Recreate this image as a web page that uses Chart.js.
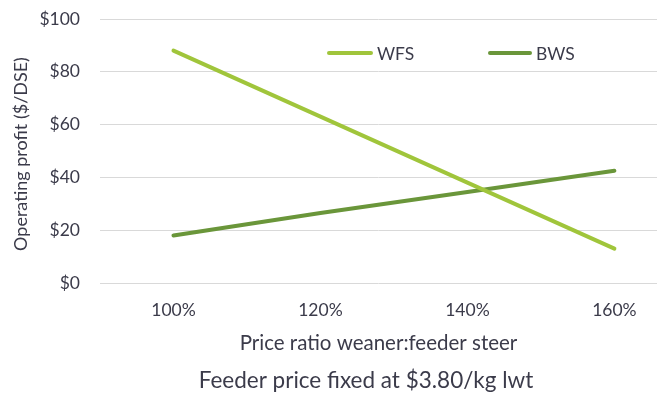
<!DOCTYPE html>
<html>
<head>
<meta charset="utf-8">
<script src="https://cdn.jsdelivr.net/npm/chart.js@4.4.1/dist/chart.umd.min.js"></script>
<style>
  html, body { margin: 0; padding: 0; background: #ffffff; overflow: hidden; }
  #wrap { width: 657px; height: 396px; position: relative; }
</style>
</head>
<body>
<div id="wrap"><canvas id="chart" width="657" height="396"></canvas></div>
<script>
// Price ratio (weaner : feeder steer), in percent
const priceRatios = [100, 120, 140, 160];
const ratioTickLabels = ['100%', '120%', '140%', '160%'];

// Operating profit, $/DSE
const wfsProfit = [88, 63, 38, 13];
const bwsProfit = [18, 26.5, 34.5, 42.5];

const profitTicks = [0, 20, 40, 60, 80, 100];

const yAxisTitle = 'Operating profit ($/DSE)';
const footnote = 'Feeder price fixed at $3.80/kg lwt';

const FONT = 'Lato, "Noto Sans", sans-serif';
const TEXT = '#3b3b4a';
const WFS_COLOR = '#a0c53b';
const BWS_COLOR = '#6a963a';

const toPoints = (ys) => ys.map((y, i) => ({ x: priceRatios[i], y }));

// Legend inside the plot area, the vertical axis title and the footnote line
const annotations = {
  id: 'annotations',
  afterDraw(chart) {
    const ctx = chart.ctx;
    const slots = [{ x: 327, y: 53 }, { x: 488, y: 53 }];
    chart.data.datasets.forEach((ds, i) => {
      const s = slots[i];
      ctx.save();
      ctx.strokeStyle = ds.borderColor;
      ctx.lineWidth = 4;
      ctx.lineCap = 'round';
      ctx.beginPath();
      ctx.moveTo(s.x + 2, s.y);
      ctx.lineTo(s.x + (i === 0 ? 44 : 42), s.y);
      ctx.stroke();
      ctx.fillStyle = TEXT;
      ctx.font = '17.5px ' + FONT;
      ctx.textBaseline = 'middle';
      ctx.textAlign = 'left';
      ctx.fillText(ds.label, s.x + (i === 0 ? 50 : 48), s.y + 1);
      ctx.restore();
    });

    ctx.save();
    ctx.fillStyle = TEXT;
    ctx.font = '18px ' + FONT;
    ctx.textAlign = 'center';
    ctx.textBaseline = 'middle';
    ctx.translate(21, 154);
    ctx.rotate(-Math.PI / 2);
    ctx.fillText(yAxisTitle, 0, 0);
    ctx.restore();

    ctx.save();
    ctx.fillStyle = TEXT;
    ctx.font = '22.5px ' + FONT;
    ctx.textAlign = 'center';
    ctx.textBaseline = 'middle';
    ctx.fillText(footnote, 366, 381);
    ctx.restore();
  }
};

new Chart(document.getElementById('chart'), {
  type: 'line',
  data: {
    datasets: [
      {
        label: 'WFS',
        data: toPoints(wfsProfit),
        borderColor: WFS_COLOR,
        backgroundColor: WFS_COLOR,
        borderWidth: 4,
        borderCapStyle: 'round',
        pointRadius: 0,
        tension: 0
      },
      {
        label: 'BWS',
        data: toPoints(bwsProfit),
        borderColor: BWS_COLOR,
        backgroundColor: BWS_COLOR,
        borderWidth: 4,
        borderCapStyle: 'round',
        pointRadius: 0,
        tension: 0
      }
    ]
  },
  options: {
    responsive: false,
    animation: false,
    layout: { padding: { left: 0, right: 0, top: 19, bottom: 37 } },
    plugins: {
      legend: { display: false },
      tooltip: { enabled: false },
      title: { display: false }
    },
    scales: {
      x: {
        type: 'linear',
        min: 90,
        max: 165.8,
        afterBuildTicks(scale) {
          scale.ticks = priceRatios.map(v => ({ value: v }));
        },
        afterFit(scale) {
          scale.height = 76;
          scale.paddingLeft = 0;
          scale.paddingRight = 0;
        },
        grid: { display: false, drawTicks: false },
        border: { display: false },
        ticks: {
          padding: 17,
          color: TEXT,
          font: { family: FONT, size: 17.5 },
          callback(value) {
            const i = priceRatios.indexOf(value);
            return i >= 0 ? ratioTickLabels[i] : '';
          }
        },
        title: {
          display: true,
          text: 'Price ratio weaner:feeder steer',
          color: TEXT,
          font: { family: FONT, size: 20.5 },
          padding: { top: 0, bottom: 3 }
        }
      },
      y: {
        min: 0,
        max: 100,
        afterBuildTicks(scale) {
          scale.ticks = profitTicks.map(v => ({ value: v }));
        },
        afterFit(scale) {
          scale.width = 100;
          scale.paddingTop = 0;
          scale.paddingBottom = 0;
        },
        grid: { color: '#d9d9d9', lineWidth: 1, drawTicks: false },
        border: { display: false },
        ticks: {
          padding: 20,
          color: TEXT,
          font: { family: FONT, size: 17.5 },
          callback: (v) => '$' + v
        },
        title: { display: false }
      }
    }
  },
  plugins: [annotations]
});
</script>
</body>
</html>
